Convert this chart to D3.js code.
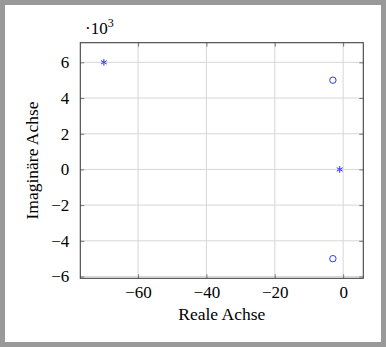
<!DOCTYPE html>
<html>
<head>
<meta charset="utf-8">
<script src="https://cdn.jsdelivr.net/npm/d3@7"></script>
<style>
  body { margin: 0; background: #999999; }
  svg { display: block; }
  text { font-family: "Liberation Serif", "DejaVu Serif", serif; fill: #000; }
</style>
</head>
<body>
<div id="chart"></div>
<script>
// poles (asterisks) and zeros (circles), imaginary part in plain units
const poleRe = [-70, -1];
const poleIm = [6000, 0];
const zeroRe = [-3, -3];
const zeroIm = [5000, -5000];
const xTicks = [-60, -40, -20, 0];
const yTicks = [-6000, -4000, -2000, 0, 2000, 4000, 6000];

const W = 386, H = 347;
const plotLeft = 80.3, plotRight = 363.3, plotTop = 42.7, plotBottom = 278.3;

const svg = d3.select('#chart').append('svg')
    .attr('width', W)
    .attr('height', H);

svg.append('rect').attr('x', 0).attr('y', 0).attr('width', W).attr('height', H).attr('fill', '#999999');
svg.append('rect').attr('x', 5).attr('y', 5).attr('width', W - 10).attr('height', H - 10).attr('fill', '#fff');

// pgfplots style enlarged limits (10% of data range)
function enlarge(vals) {
    const lo = d3.min(vals), hi = d3.max(vals), pad = (hi - lo) * 0.1;
    return [lo - pad, hi + pad];
}
const xScale = d3.scaleLinear()
    .domain(enlarge(poleRe.concat(zeroRe)))
    .range([plotLeft, plotRight]);
const yScale = d3.scaleLinear()
    .domain(enlarge(poleIm.concat(zeroIm)))
    .range([plotBottom, plotTop]);

// grid
const grid = svg.append('g').attr('stroke', '#d6d6d6').attr('stroke-width', 1);
grid.selectAll('.gx').data(xTicks).enter().append('line')
    .attr('x1', d => xScale(d)).attr('x2', d => xScale(d))
    .attr('y1', plotTop).attr('y2', plotBottom);
grid.selectAll('.gy').data(yTicks).enter().append('line')
    .attr('x1', plotLeft).attr('x2', plotRight)
    .attr('y1', d => yScale(d)).attr('y2', d => yScale(d));

// axes with inward ticks
const fmt = d => (d < 0 ? '\u2212' : '') + Math.abs(d);
const xAxis = svg.append('g')
    .attr('transform', `translate(0, ${plotBottom})`)
    .call(d3.axisBottom(xScale).tickValues(xTicks).tickSizeInner(-4).tickSizeOuter(0).tickPadding(8).tickFormat(fmt));
const xAxisTop = svg.append('g')
    .attr('transform', `translate(0, ${plotTop})`)
    .call(d3.axisTop(xScale).tickValues(xTicks).tickSizeInner(-4).tickSizeOuter(0).tickFormat(''));
const yAxis = svg.append('g')
    .attr('transform', `translate(${plotLeft}, 0)`)
    .call(d3.axisLeft(yScale).tickValues(yTicks).tickSizeInner(-4).tickSizeOuter(0).tickPadding(11).tickFormat(d => fmt(d / 1000)));
const yAxisRight = svg.append('g')
    .attr('transform', `translate(${plotRight}, 0)`)
    .call(d3.axisRight(yScale).tickValues(yTicks).tickSizeInner(-4).tickSizeOuter(0).tickFormat(''));

[xAxis, xAxisTop, yAxis, yAxisRight].forEach(a => {
    a.select('.domain').remove();
    a.selectAll('.tick line').attr('stroke', '#777');
    a.selectAll('.tick text').style('font-size', '17px').style('font-family', '"Liberation Serif", serif');
});

// frame
svg.append('rect')
    .attr('x', plotLeft).attr('y', plotTop)
    .attr('width', plotRight - plotLeft).attr('height', plotBottom - plotTop)
    .attr('fill', 'none').attr('stroke', '#404040').attr('stroke-width', 1.1);

// zeros
svg.selectAll('.zero').data(zeroRe).enter().append('circle')
    .attr('cx', d => xScale(d))
    .attr('cy', (d, i) => yScale(zeroIm[i]))
    .attr('r', 3.2)
    .attr('fill', 'none')
    .attr('stroke', '#3333ff')
    .attr('stroke-width', 1);

// poles as asterisks
const r = 3.4;
const star = svg.selectAll('.pole').data(poleRe).enter().append('g')
    .attr('transform', (d, i) => `translate(${xScale(d)}, ${yScale(poleIm[i])})`);
[90, 30, -30].forEach(a => {
    const rad = a * Math.PI / 180;
    star.append('line')
        .attr('x1', -r * Math.cos(rad)).attr('y1', -r * Math.sin(rad))
        .attr('x2', r * Math.cos(rad)).attr('y2', r * Math.sin(rad))
        .attr('stroke', '#3333ff').attr('stroke-width', 1);
});

// labels
svg.append('text')
    .attr('x', (plotLeft + plotRight) / 2).attr('y', 320)
    .attr('text-anchor', 'middle')
    .style('font-size', '17.5px')
    .text('Reale Achse');
svg.append('text')
    .attr('transform', `translate(38, ${(plotTop + plotBottom) / 2}) rotate(-90)`)
    .attr('text-anchor', 'middle')
    .style('font-size', '17.5px')
    .text('Imaginäre Achse');
const exp = svg.append('text').attr('x', 85).attr('y', 34).style('font-size', '17px');
exp.append('tspan').text('\u00b710');
exp.append('tspan').attr('dy', -7).style('font-size', '12px').text('3');
</script>
</body>
</html>
